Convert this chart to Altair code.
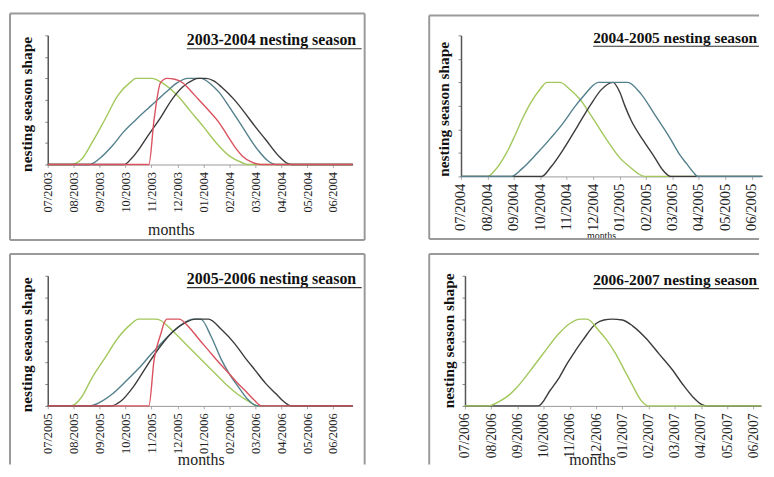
import altair as alt
import pandas as pd

FONT = "Liberation Serif, Times New Roman, serif"

# ---------------- tick labels ----------------
LABELS_0304 = ["07/2003", "08/2003", "09/2003", "10/2003", "11/2003", "12/2003",
               "01/2004", "02/2004", "03/2004", "04/2004", "05/2004", "06/2004"]
LABELS_0405 = ["07/2004", "08/2004", "09/2004", "10/2004", "11/2004", "12/2004",
               "01/2005", "02/2005", "03/2005", "04/2005", "05/2005", "06/2005"]
LABELS_0506 = ["07/2005", "08/2005", "09/2005", "10/2005", "11/2005", "12/2005",
               "01/2006", "02/2006", "03/2006", "04/2006", "05/2006", "06/2006"]
LABELS_0607 = ["07/2006", "08/2006", "09/2006", "10/2006", "11/2006", "12/2006",
               "01/2007", "02/2007", "03/2007", "04/2007", "05/2007", "06/2007"]

TITLES = ["2003-2004 nesting season", "2004-2005 nesting season",
          "2005-2006 nesting season", "2006-2007 nesting season"]

# ---------------- series: (months since July 1, relative shape) ----------------
# 2003-2004
P1_GREEN = [(0, 0), (0.9, 0), (1.3, 0.06), (1.7, 0.25), (2.2, 0.52), (2.7, 0.8), (3.2, 0.96),
            (3.4, 1), (4.0, 1), (4.5, 0.93), (5.0, 0.8), (5.5, 0.62), (6.0, 0.44), (6.5, 0.25),
            (7.0, 0.1), (7.5, 0.02), (7.7, 0), (11.76, 0)]
P1_TEAL = [(0, 0), (1.6, 0), (2.0, 0.07), (2.5, 0.22), (2.9, 0.37), (3.4, 0.52), (3.9, 0.66),
           (4.3, 0.77), (4.6, 0.85), (5.0, 0.95), (5.4, 1), (5.9, 1), (6.3, 0.93), (6.6, 0.84),
           (7.0, 0.67), (7.5, 0.44), (8.1, 0.17), (8.5, 0.04), (8.8, 0), (11.76, 0)]
P1_BLACK = [(0, 0), (2.95, 0), (3.2, 0.06), (3.5, 0.17), (3.9, 0.35), (4.3, 0.52), (4.8, 0.76),
            (5.2, 0.9), (5.6, 0.98), (5.8, 1), (6.1, 1), (6.4, 0.97), (6.7, 0.9), (7.2, 0.75),
            (7.6, 0.6), (8.0, 0.44), (8.4, 0.29), (8.9, 0.1), (9.2, 0.02), (9.4, 0), (11.76, 0)]
P1_RED = [(0, 0), (3.9, 0), (4.1, 0.52), (4.35, 0.95), (4.6, 1), (4.9, 0.99), (5.2, 0.95),
          (5.5, 0.86), (5.8, 0.76), (6.2, 0.63), (6.6, 0.49), (6.9, 0.35), (7.2, 0.21),
          (7.5, 0.1), (7.85, 0.03), (8.2, 0), (11.76, 0)]

# 2004-2005
P2_GREEN = [(0, 0), (1.0, 0), (1.3, 0.07), (1.7, 0.24), (2.0, 0.41), (2.3, 0.6), (2.63, 0.78),
            (3.0, 0.93), (3.25, 1), (3.75, 1), (4.1, 0.93), (4.5, 0.82), (4.8, 0.7), (5.1, 0.57),
            (5.56, 0.37), (6.0, 0.2), (6.43, 0.09), (6.7, 0.03), (6.95, 0), (11.4, 0)]
P2_TEAL = [(0, 0), (1.9, 0), (2.3, 0.08), (2.86, 0.24), (3.4, 0.41), (3.87, 0.57), (4.3, 0.74),
           (4.74, 0.89), (5.0, 0.97), (5.2, 1), (6.3, 1), (6.8, 0.88), (7.3, 0.67), (7.9, 0.41),
           (8.3, 0.22), (8.55, 0.13), (8.8, 0.04), (8.95, 0), (11.4, 0)]
P2_BLACK = [(0, 0), (3.05, 0), (3.4, 0.1), (3.9, 0.3), (4.4, 0.53), (4.9, 0.76), (5.3, 0.92),
            (5.75, 1), (6.0, 0.9), (6.2, 0.75), (6.43, 0.6), (6.9, 0.38), (7.33, 0.2),
            (7.6, 0.08), (7.93, 0), (11.4, 0)]

# 2005-2006
P3_GREEN = [(0, 0), (0.9, 0), (1.3, 0.1), (1.7, 0.32), (2.2, 0.55), (2.7, 0.78), (3.2, 0.94),
            (3.5, 1), (4.2, 1), (4.8, 0.87), (5.3, 0.72), (5.8, 0.57), (6.3, 0.42), (6.8, 0.27),
            (7.3, 0.14), (7.7, 0.06), (8.1, 0), (11.76, 0)]
P3_TEAL = [(0, 0), (1.6, 0), (2.0, 0.04), (2.5, 0.14), (3.0, 0.28), (3.5, 0.43), (4.0, 0.6),
           (4.5, 0.76), (5.0, 0.9), (5.4, 0.98), (5.6, 1), (5.9, 1), (6.3, 0.8), (6.7, 0.53),
           (7.0, 0.37), (7.35, 0.22), (7.7, 0.08), (8.1, 0), (11.76, 0)]
P3_BLACK = [(0, 0), (2.45, 0), (2.8, 0.05), (3.3, 0.22), (3.8, 0.45), (4.3, 0.67), (4.8, 0.85),
            (5.3, 0.96), (5.7, 1), (6.2, 1), (6.7, 0.88), (7.2, 0.72), (7.6, 0.56), (8.0, 0.41),
            (8.4, 0.26), (8.8, 0.14), (9.1, 0.05), (9.4, 0), (11.76, 0)]
P3_RED = [(0, 0), (3.9, 0), (4.1, 0.53), (4.37, 0.84), (4.48, 0.95), (4.6, 1), (5.06, 1),
          (5.44, 0.91), (5.8, 0.78), (6.2, 0.64), (6.6, 0.5), (6.97, 0.38), (7.3, 0.27),
          (7.6, 0.18), (7.95, 0.07), (8.25, 0), (11.76, 0)]

# 2006-2007
P4_GREEN = [(0, 0), (0.9, 0), (1.3, 0.05), (1.7, 0.13), (2.0, 0.22), (2.5, 0.41), (3.0, 0.61),
            (3.6, 0.84), (4.0, 0.95), (4.4, 1), (4.65, 1), (5.1, 0.87), (5.4, 0.76), (5.75, 0.6),
            (6.1, 0.4), (6.35, 0.26), (6.7, 0.07), (7.0, 0), (11.3, 0)]
P4_BLACK = [(0, 0), (2.8, 0), (3.25, 0.18), (3.6, 0.33), (3.9, 0.49), (4.2, 0.63), (4.5, 0.76),
            (5.0, 0.95), (5.3, 0.99), (5.6, 1), (6.0, 0.99), (6.4, 0.92), (6.9, 0.78), (7.4, 0.6),
            (7.9, 0.42), (8.3, 0.25), (8.7, 0.1), (9.0, 0.02), (9.2, 0), (11.3, 0)]

GREEN = "#a2c85c"
TEAL = "#53808c"
BLACK = "#3b3b3b"
RED = "#d9525e"
FRAME = "#9a9a9a"

Y_TICKS = [0, 0.25, 0.5, 0.75, 1.0, 1.25, 1.5]


def one():
    return pd.DataFrame({"k": [0]})


def rule(x, x2, y, y2=None, color=FRAME, width=2):
    enc = dict(x=alt.value(x), x2=alt.value(x2), y=alt.value(y))
    if y2 is not None:
        enc["y2"] = alt.value(y2)
    return alt.Chart(one()).mark_rule(color=color, strokeWidth=width).encode(**enc)


def panel(series, labels, title, W, H, xmax, frame, sides, tick_fs, months, ytitle, head):
    label_expr = "[" + ",".join("'%s'" % s for s in labels) + "][datum.value]"
    xscale = alt.Scale(domain=[0, xmax], nice=False, zero=False)
    yscale = alt.Scale(domain=[0, 1.5], nice=False)
    xaxis = alt.Axis(values=list(range(12)), labelExpr=label_expr, labelAngle=270,
                     labelFont=FONT, labelFontSize=tick_fs, labelColor="#222222",
                     labelOverlap=False, labelFlush=False, labelPadding=4,
                     tickSize=3, tickColor="#aaaaaa", domainColor="#999999", grid=False,
                     title="months", titleFont=FONT, titleFontSize=months[2],
                     titleFontWeight="normal", titleColor="#222222",
                     titleX=months[0], titleY=months[1], titleAlign="center",
                     titleBaseline="alphabetic")
    yaxis = alt.Axis(values=Y_TICKS, labels=False, tickSize=3, tickColor="#888888",
                     domainColor="#555555", domainWidth=1.5, grid=False,
                     title="nesting season shape", titleFont=FONT, titleFontSize=15.5,
                     titleFontWeight="bold", titleColor="#111111", titleAngle=270,
                     titleX=ytitle[0], titleY=ytitle[1], titleAlign="center",
                     titleBaseline="alphabetic")
    fl, ft, fr, fb = frame
    layers = []
    if "left" in sides:
        layers.append(rule(fl, fl, ft, fb))
    if "right" in sides:
        layers.append(rule(fr, fr, ft, fb))
    if "top" in sides:
        layers.append(rule(fl, fr, ft))
    if "bottom" in sides:
        layers.append(rule(fl, fr, fb))
    for pts, col in series:
        df = pd.DataFrame(pts, columns=["m", "v"])
        layers.append(
            alt.Chart(df).mark_line(color=col, strokeWidth=1.4, interpolate="monotone").encode(
                x=alt.X("m:Q", scale=xscale, axis=xaxis),
                y=alt.Y("v:Q", scale=yscale, axis=yaxis))
        )
    tx, tb, ul, fs, ulw = head
    layers.append(
        alt.Chart(one()).mark_text(font=FONT, fontSize=fs, fontWeight="bold", align="left",
                                   baseline="alphabetic", color="#111111").encode(
            x=alt.value(tx), y=alt.value(tb), text=alt.value(title))
    )
    layers.append(rule(tx, tx + ulw, ul, color="#333333", width=1.2))
    return alt.layer(*layers).properties(width=W, height=H)


# panel 1: plot 307x130, frame around it
p1 = panel([(P1_GREEN, GREEN), (P1_TEAL, TEAL), (P1_BLACK, BLACK), (P1_RED, RED)],
           LABELS_0304, TITLES[0], 307, 130, 11.76, (-38, -22, 319, 206),
           ("left", "right", "top", "bottom"), 12.5,
           (124, 70, 16), (-16, 69), (140, 10, 13.5, 16, 176))
# panel 2: reaches the right edge
p2 = panel([(P2_GREEN, GREEN), (P2_BLACK, BLACK), (P2_TEAL, TEAL)],
           LABELS_0405, TITLES[1], 302, 142, 11.35, (-32, -20, 300, 205),
           ("left", "top", "bottom"), 14.5,
           (141, 62, 10), (-13, 74), (133, 8, 11, 15.5, 167))
# panel 3: reaches the bottom edge
p3 = panel([(P3_GREEN, GREEN), (P3_TEAL, TEAL), (P3_BLACK, BLACK), (P3_RED, RED)],
           LABELS_0506, TITLES[2], 307, 131, 11.76, (-38, -22, 319, 190),
           ("left", "right", "top"), 12.5,
           (154, 59, 16), (-16, 69), (140, 8, 12, 16, 176))
# panel 4: reaches both edges
p4 = panel([(P4_BLACK, BLACK), (P4_GREEN, GREEN)],
           LABELS_0607, TITLES[3], 298, 131, 11.29, (-36, -22, 296, 190),
           ("left", "top"), 13.8,
           (128, 59, 16), (-12, 65), (129, 9, 13, 15.5, 167))

row1 = alt.hconcat(p1, p2, spacing=63)
row2 = alt.hconcat(p3, p4, spacing=63)
chart = alt.vconcat(row1, row2, spacing=12).properties(
    padding={"left": 1, "top": 3, "right": 0, "bottom": 0},
    background="white",
).configure_view(stroke=None)

chart.save("out.html", embed_options={"renderer": "svg", "actions": False})
